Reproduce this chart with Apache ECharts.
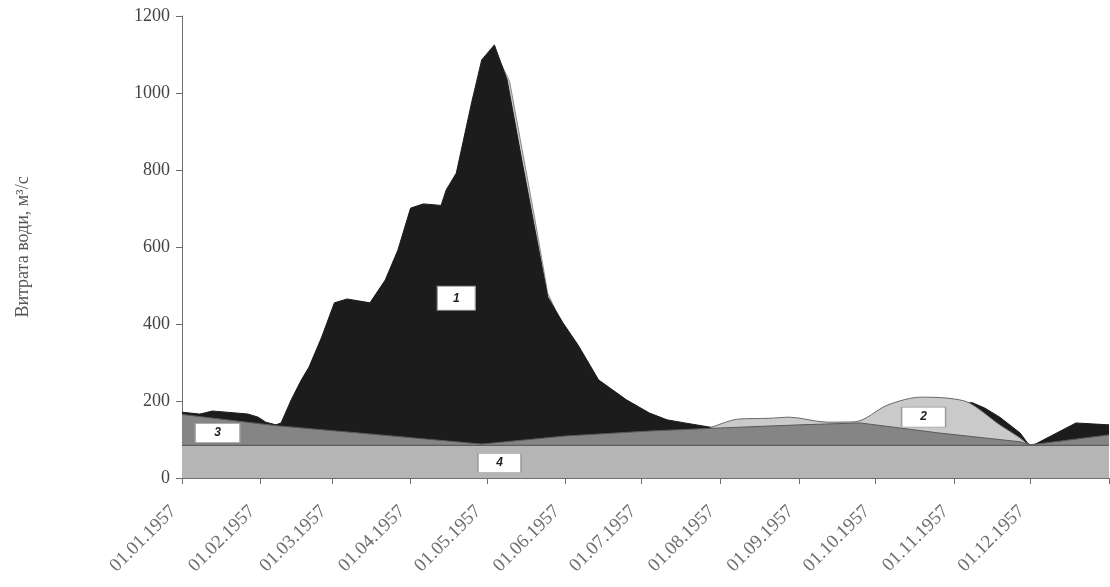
<!DOCTYPE html>
<html>
<head>
<meta charset="utf-8">
<script src="https://cdn.jsdelivr.net/npm/echarts@6/dist/echarts.min.js"></script>
<style>
html,body{margin:0;padding:0;background:#fff;}
#chart{width:1110px;height:587px;}
</style>
</head>
<body>
<div id="chart"></div>
<script>
// Month starts used for ticks and labels
const monthTicks = ['1957-01-01','1957-02-01','1957-03-01','1957-04-01','1957-05-01','1957-06-01',
  '1957-07-01','1957-08-01','1957-09-01','1957-10-01','1957-11-01','1957-12-01','1958-01-01'];

// 1 – total hydrograph envelope (black)
const s1Dates = ['1957-01-01','1957-01-08','1957-01-13','1957-01-22','1957-01-27','1957-01-31','1957-02-03','1957-02-07',
  '1957-02-09','1957-02-13','1957-02-17','1957-02-20','1957-02-25','1957-03-02','1957-03-07','1957-03-16','1957-03-22',
  '1957-03-27','1957-04-01','1957-04-06','1957-04-13','1957-04-15','1957-04-19','1957-04-25','1957-04-29','1957-05-04',
  '1957-05-09','1957-05-15','1957-05-20','1957-05-25','1957-05-31','1957-06-06','1957-06-14','1957-06-25','1957-07-04',
  '1957-07-11','1957-07-18','1957-07-28','1957-09-01','1957-10-01','1957-10-25','1957-11-08','1957-11-13','1957-11-19',
  '1957-11-27','1957-11-30','1957-12-01','1957-12-03','1957-12-19','1958-01-01'];
const s1Values = [171,166,174,169,166,158,145,138,
  143,203,255,288,366,455,465,455,514,
  592,701,712,708,748,792,974,1086,1125,
  1034,818,644,470,403,345,255,203,169,
  151,143,132,128,133,180,196,182,158,
  117,90,86,88,143,138];

// 2 – rain flood envelope (light gray), summer–autumn part
const s2Dates = ['1957-07-28','1957-08-08','1957-08-20','1957-08-28','1957-09-12','1957-09-23','1957-10-06','1957-10-19',
  '1957-10-30','1957-11-07','1957-11-19','1957-11-27','1957-11-30','1957-12-01'];
const s2Values = [130,153,155,158,145,146,190,210,207,195,138,104,88,86];

// 2 – envelope along the falling limb of the spring flood
const s2SpringDates = ['1957-05-06','1957-05-10','1957-05-15','1957-05-20','1957-05-25','1957-06-01'];
const s2SpringValues = [1085,1030,850,670,480,380];

// 3 – envelope of component 3 (dark gray)
const s3Dates = ['1957-01-01','1957-02-07','1957-03-20','1957-04-29','1957-06-01','1957-07-04','1957-08-01','1957-09-01',
  '1957-09-25','1957-10-26','1957-11-27','1957-12-01','1958-01-01'];
const s3Values = [165,136,112,88,109,122,130,138,143,117,94,86,112];

// 4 – base flow (light gray)
const s4Dates = ['1957-01-01','1958-01-01'];
const s4Values = [85,85];

function zip(d, v){ return d.map((x,i)=>[x, v[i]]); }
function ts(s){ const p=s.split('-').map(Number); return Date.UTC(p[0], p[1]-1, p[2]); }
function pad(n){ return (n<10?'0':'')+n; }

const tickTs = monthTicks.map(ts);
const labelTs = tickTs.slice(0, 12);

const chart = echarts.init(document.getElementById('chart'), null, {renderer:'canvas'});

const areaBase = {type:'line', symbol:'none', showSymbol:false, animation:false, silent:true};

const boxStyle = (w,h,txt) => ({
  symbol:'rect', symbolSize:[w,h],
  itemStyle:{color:'#ffffff', borderColor:'#9a9a9a', borderWidth:1},
  label:{show:true, position:'inside', formatter:txt, color:'#222', fontSize:12, fontStyle:'italic',
    fontWeight:'bold', fontFamily:'Liberation Sans, Arial, sans-serif'}
});

chart.setOption({
  animation:false,
  backgroundColor:'#ffffff',
  grid:{left:182, right:1, top:16, bottom:109, containLabel:false},
  xAxis:{
    type:'value',
    min: ts('1957-01-01'), max: ts('1958-01-01'),
    axisLine:{show:true, onZero:false, lineStyle:{color:'#6e6e6e', width:1}},
    axisTick:{show:true, length:6, inside:false, customValues:tickTs, lineStyle:{color:'#6e6e6e'}},
    axisLabel:{
      show:true, rotate:45, margin:22, padding:[0,12,0,0], customValues:labelTs,
      color:'#6e6e6e', fontSize:19, fontFamily:'Liberation Serif, Times New Roman, serif',
      formatter:function(v){ const d=new Date(v); return pad(d.getUTCDate())+'.'+pad(d.getUTCMonth()+1)+'.'+d.getUTCFullYear(); }
    },
    splitLine:{show:false}
  },
  yAxis:{
    type:'value', min:0, max:1200, interval:200,
    name:'Витрата води, м³/с', nameLocation:'middle', nameGap:150, nameRotate:90,
    nameTextStyle:{color:'#555', fontSize:18, fontFamily:'Liberation Serif, Times New Roman, serif'},
    axisLine:{show:true, lineStyle:{color:'#6e6e6e', width:1}},
    axisTick:{show:true, length:6, lineStyle:{color:'#6e6e6e'}},
    axisLabel:{color:'#444', fontSize:18, margin:12, fontFamily:'Liberation Serif, Times New Roman, serif',
      formatter:function(v){ return String(v); }},
    splitLine:{show:false}
  },
  series:[
    Object.assign({}, areaBase, {name:'2', data:zip(s2SpringDates.map(ts), s2SpringValues),
      lineStyle:{color:'#8a8a8a', width:1}, areaStyle:{color:'#cacaca', opacity:1}, z:1}),
    Object.assign({}, areaBase, {name:'1', data:zip(s1Dates.map(ts), s1Values),
      lineStyle:{color:'#1c1c1c', width:1}, areaStyle:{color:'#1c1c1c', opacity:1}, z:2}),
    Object.assign({}, areaBase, {name:'2', data:zip(s2Dates.map(ts), s2Values), smooth:0.3,
      lineStyle:{color:'#6a6a6a', width:1}, areaStyle:{color:'#cacaca', opacity:1}, z:3,
      markPoint:{silent:true, animation:false, z:10, data:[Object.assign({coord:[ts('1957-10-20'), 158]}, boxStyle(44,20,'2'))]}}),
    Object.assign({}, areaBase, {name:'3', data:zip(s3Dates.map(ts), s3Values),
      lineStyle:{color:'#5a5a5a', width:1}, areaStyle:{color:'#858585', opacity:1}, z:4}),
    Object.assign({}, areaBase, {name:'4', data:zip(s4Dates.map(ts), s4Values),
      lineStyle:{color:'#5e5e5e', width:1.2}, areaStyle:{color:'#b5b5b5', opacity:1}, z:5,
      markPoint:{silent:true, animation:false, z:10, data:[
        Object.assign({coord:[ts('1957-04-19'), 467]}, boxStyle(38,24,'1')),
        Object.assign({coord:[ts('1957-01-15'), 117]}, boxStyle(45,19,'3')),
        Object.assign({coord:[ts('1957-05-06'), 39]}, boxStyle(43,19,'4'))
      ]}})
  ]
});
</script>
</body>
</html>
